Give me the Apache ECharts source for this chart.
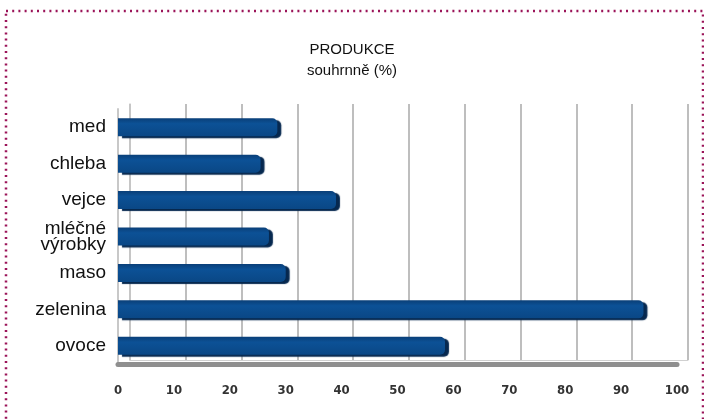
<!DOCTYPE html>
<html>
<head>
<meta charset="utf-8">
<script src="https://cdn.jsdelivr.net/npm/echarts@6/dist/echarts.min.js"></script>
<style>html,body{margin:0;padding:0;background:#fff;}#c{width:704px;height:419px;}</style>
</head>
<body>
<div id="c"></div>
<script>
var categories = ['med', 'chleba', 'vejce', 'mléčné\nvýrobky', 'maso', 'zelenina', 'ovoce'];
var values = [28.5, 25.5, 39, 27, 30, 94, 58.5];
var xTicks = [0, 10, 20, 30, 40, 50, 60, 70, 80, 90, 100];

var chart = echarts.init(document.getElementById('c'));
chart.setOption({
  animation: false,
  backgroundColor: '#fff',
  title: {
    text: 'PRODUKCE',
    subtext: 'souhrnně (%)',
    left: 'center',
    top: 37,
    itemGap: 6,
    textStyle: {fontFamily: 'Liberation Sans', fontSize: 15, fontWeight: 'normal', color: '#111'},
    subtextStyle: {fontFamily: 'Liberation Sans', fontSize: 15, color: '#111'}
  },
  graphic: [{
    type: 'rect', silent: true,
    shape: {x: 6, y: 11, width: 697, height: 440},
    style: {fill: 'none', stroke: '#9b1459', lineWidth: 2.5, lineDash: [2, 4.2]}
  }],
  grid: [
    {left: 118, right: 27, top: 109, bottom: 55},
    {left: 130, right: 16, top: 104, bottom: 59}
  ],
  xAxis: [{
    gridIndex: 0, type: 'value', min: xTicks[0], max: xTicks[xTicks.length - 1], interval: 10,
    axisLine: {show: true, lineStyle: {color: '#8f8f8f', width: 5}},
    axisTick: {show: false},
    splitLine: {show: false},
    axisLabel: {margin: 20, color: '#333', fontFamily: 'DejaVu Sans Condensed', fontWeight: 'bold', fontSize: 13}
  }, {
    gridIndex: 1, type: 'value', min: xTicks[0], max: xTicks[xTicks.length - 1], interval: 10,
    axisLine: {show: true, lineStyle: {color: '#d0d0d0', width: 1}},
    axisTick: {show: false},
    axisLabel: {show: false},
    splitLine: {show: true, lineStyle: {color: '#a8a8a8', width: 1.5}}
  }],
  yAxis: [{
    gridIndex: 0, type: 'category', data: categories, inverse: true,
    axisLine: {show: true, lineStyle: {color: '#c8c8c8', width: 2}},
    axisTick: {show: false},
    axisLabel: {margin: 12, color: '#111', fontFamily: 'Liberation Sans', fontSize: 19, lineHeight: 16}
  }, {
    gridIndex: 1, type: 'category', data: categories, inverse: true,
    axisLine: {show: true, lineStyle: {color: '#c8c8c8', width: 1.5}},
    axisTick: {show: false},
    axisLabel: {show: false}
  }],
  series: [{
    type: 'bar',
    xAxisIndex: 0, yAxisIndex: 0,
    data: values,
    barWidth: 18,
    itemStyle: {
      color: new echarts.graphic.LinearGradient(0, 0, 0, 1, [
        {offset: 0, color: '#0a3f78'},
        {offset: 0.3, color: '#0c5196'},
        {offset: 1, color: '#0a4785'}
      ]),
      borderRadius: [0, 5, 5, 0],
      shadowColor: '#06284f',
      shadowOffsetX: 4,
      shadowOffsetY: 2,
      shadowBlur: 1
    }
  }]
});
</script>
</body>
</html>
